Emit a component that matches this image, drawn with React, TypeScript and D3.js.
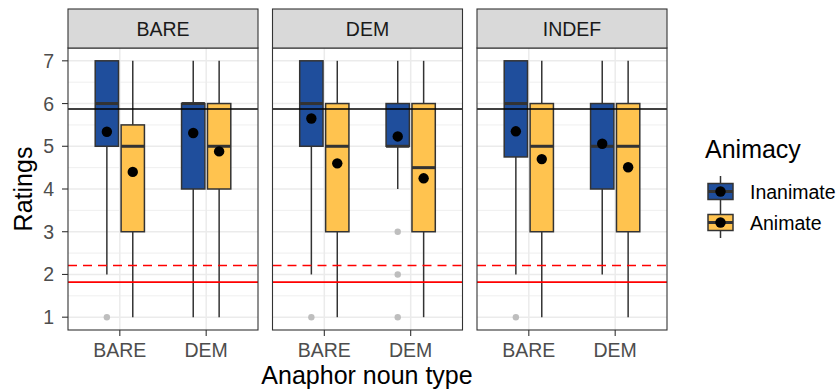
import React from 'react';
import * as d3 from 'd3';

const facets = ['BARE', 'DEM', 'INDEF'];
const nounTypes = ['BARE', 'DEM'];
const animacy = ['Inanimate', 'Animate'];
const fillColors = ['#1F4E9C', '#FFC34F'];
const yTicks = [1, 2, 3, 4, 5, 6, 7];
const yMinor = [1.5, 2.5, 3.5, 4.5, 5.5, 6.5];

// facet, noun type, animacy, whisker low, lower hinge, median, upper hinge, whisker high, mean
interface BoxRow {
  facet: string;
  noun: string;
  group: string;
  ymin: number;
  lower: number;
  middle: number;
  upper: number;
  ymax: number;
  mean: number;
}

const boxes: BoxRow[] = [
  { facet: 'BARE', noun: 'BARE', group: 'Inanimate', ymin: 2, lower: 5, middle: 6, upper: 7, ymax: 7, mean: 5.34 },
  { facet: 'BARE', noun: 'BARE', group: 'Animate', ymin: 1, lower: 3, middle: 5, upper: 5.5, ymax: 7, mean: 4.4 },
  { facet: 'BARE', noun: 'DEM', group: 'Inanimate', ymin: 1, lower: 4, middle: 6, upper: 6, ymax: 7, mean: 5.31 },
  { facet: 'BARE', noun: 'DEM', group: 'Animate', ymin: 1, lower: 4, middle: 5, upper: 6, ymax: 7, mean: 4.88 },
  { facet: 'DEM', noun: 'BARE', group: 'Inanimate', ymin: 2, lower: 5, middle: 6, upper: 7, ymax: 7, mean: 5.65 },
  { facet: 'DEM', noun: 'BARE', group: 'Animate', ymin: 1, lower: 3, middle: 5, upper: 6, ymax: 7, mean: 4.6 },
  { facet: 'DEM', noun: 'DEM', group: 'Inanimate', ymin: 4, lower: 5, middle: 5, upper: 6, ymax: 7, mean: 5.23 },
  { facet: 'DEM', noun: 'DEM', group: 'Animate', ymin: 1, lower: 3, middle: 4.5, upper: 6, ymax: 7, mean: 4.25 },
  { facet: 'INDEF', noun: 'BARE', group: 'Inanimate', ymin: 2, lower: 4.75, middle: 6, upper: 7, ymax: 7, mean: 5.35 },
  { facet: 'INDEF', noun: 'BARE', group: 'Animate', ymin: 1, lower: 3, middle: 5, upper: 6, ymax: 7, mean: 4.7 },
  { facet: 'INDEF', noun: 'DEM', group: 'Inanimate', ymin: 2, lower: 4, middle: 5, upper: 6, ymax: 7, mean: 5.06 },
  { facet: 'INDEF', noun: 'DEM', group: 'Animate', ymin: 1, lower: 3, middle: 5, upper: 6, ymax: 7, mean: 4.51 },
];

const outliers = [
  { facet: 'BARE', noun: 'BARE', group: 'Inanimate', value: 1 },
  { facet: 'DEM', noun: 'BARE', group: 'Inanimate', value: 1 },
  { facet: 'DEM', noun: 'DEM', group: 'Inanimate', value: 3 },
  { facet: 'DEM', noun: 'DEM', group: 'Inanimate', value: 2 },
  { facet: 'DEM', noun: 'DEM', group: 'Inanimate', value: 1 },
  { facet: 'INDEF', noun: 'BARE', group: 'Inanimate', value: 1 },
];

const meanLine = 5.87;
const dashedLine = 2.21;
const solidLine = 1.82;

const W = 839;
const H = 392;
const panelTop = 48;
const panelBottom = 330;
const stripTop = 9;
const font = '"Liberation Sans", Arial, Helvetica, sans-serif';
const dark = '#333333';
const smallSize = 19.5;
const titleSize = 25;

export default function App() {
  const fx = d3.scaleBand<string>().domain(facets).range([68, 667]).paddingInner(0.0709);
  const bw = fx.bandwidth();
  const x = d3.scaleLinear().domain([0.4, 2.6]).range([0, bw]);
  const y = d3.scaleLinear().domain([0.7, 7.3]).range([panelBottom, panelTop]);
  const groupScale = d3.scaleOrdinal<string, number>().domain(animacy).range([-0.15, 0.15]);
  const color = d3.scaleOrdinal<string, string>().domain(animacy).range(fillColors);
  const boxW = x(0.4 + 0.27) - x(0.4);

  const cx = (noun: string, group: string) => x(nounTypes.indexOf(noun) + 1 + groupScale(group));

  return (
    <svg width={W} height={H} style={{ position: 'absolute', left: 0, top: 0 }} fontFamily={font}>
      <rect width={W} height={H} fill="white" />
      {facets.map(f => {
        const left = fx(f) || 0;
        const fb = boxes.filter(b => b.facet === f);
        const fo = outliers.filter(o => o.facet === f);
        return (
          <g key={f} transform={`translate(${left},0)`}>
            <rect x={0} y={panelTop} width={bw} height={panelBottom - panelTop} fill="white" />
            {yMinor.map(v => (
              <line key={'m' + v} x1={0} x2={bw} y1={y(v)} y2={y(v)} stroke="#EBEBEB" strokeWidth={0.8} />
            ))}
            {yTicks.map(v => (
              <line key={'M' + v} x1={0} x2={bw} y1={y(v)} y2={y(v)} stroke="#EBEBEB" strokeWidth={1.5} />
            ))}
            {nounTypes.map((n, i) => (
              <line key={n} x1={x(i + 1)} x2={x(i + 1)} y1={panelTop} y2={panelBottom} stroke="#EBEBEB" strokeWidth={1.5} />
            ))}
            {fo.map((o, i) => (
              <circle key={'o' + i} cx={cx(o.noun, o.group)} cy={y(o.value)} r={3.2} fill="#BEBEBE" />
            ))}
            {fb.map((b, i) => {
              const c = cx(b.noun, b.group);
              return (
                <g key={'b' + i}>
                  <line x1={c} x2={c} y1={y(b.upper)} y2={y(b.ymax)} stroke={dark} strokeWidth={1.5} />
                  <line x1={c} x2={c} y1={y(b.lower)} y2={y(b.ymin)} stroke={dark} strokeWidth={1.5} />
                  <rect x={c - boxW / 2} y={y(b.upper)} width={boxW} height={y(b.lower) - y(b.upper)}
                    fill={color(b.group)} stroke={dark} strokeWidth={1.5} />
                  <line x1={c - boxW / 2} x2={c + boxW / 2} y1={y(b.middle)} y2={y(b.middle)} stroke={dark} strokeWidth={3} />
                </g>
              );
            })}
            <line x1={0} x2={bw} y1={y(meanLine)} y2={y(meanLine)} stroke="black" strokeWidth={1.5} />
            <line x1={0} x2={bw} y1={y(dashedLine)} y2={y(dashedLine)} stroke="#FF0000" strokeWidth={1.6} strokeDasharray="9,6" />
            <line x1={0} x2={bw} y1={y(solidLine)} y2={y(solidLine)} stroke="#FF0000" strokeWidth={1.6} />
            {fb.map((b, i) => (
              <circle key={'p' + i} cx={cx(b.noun, b.group)} cy={y(b.mean)} r={5.2} fill="black" />
            ))}
            <rect x={0} y={panelTop} width={bw} height={panelBottom - panelTop} fill="none" stroke={dark} strokeWidth={1.1} />
            <rect x={0} y={stripTop} width={bw} height={panelTop - stripTop} fill="#D9D9D9" stroke={dark} strokeWidth={1.1} />
            <text x={bw / 2} y={36} textAnchor="middle" fontSize={smallSize} fill="#1A1A1A">{f}</text>
            {nounTypes.map((n, i) => (
              <g key={'t' + n}>
                <line x1={x(i + 1)} x2={x(i + 1)} y1={panelBottom} y2={panelBottom + 6} stroke={dark} strokeWidth={1.1} />
                <text x={x(i + 1)} y={357} textAnchor="middle" fontSize={smallSize} fill="#4D4D4D">{n}</text>
              </g>
            ))}
          </g>
        );
      })}
      {/* y axis */}
      {yTicks.map(v => (
        <g key={'y' + v}>
          <line x1={62} x2={68} y1={y(v)} y2={y(v)} stroke={dark} strokeWidth={1.1} />
          <text x={54} y={y(v)} dy="0.36em" textAnchor="end" fontSize={smallSize} fill="#4D4D4D">{v}</text>
        </g>
      ))}
      <text transform={`translate(32,${(panelTop + panelBottom) / 2}) rotate(-90)`} textAnchor="middle" fontSize={titleSize} fill="black">Ratings</text>
      <text x={367} y={384} textAnchor="middle" fontSize={titleSize} fill="black">Anaphor noun type</text>
      {/* legend */}
      <text x={705} y={158} fontSize={titleSize} fill="black">Animacy</text>
      {animacy.map((g, i) => {
        const ky = 176 + i * 31;
        const kx = 705;
        const ks = 31;
        return (
          <g key={'l' + g}>
            <line x1={kx + ks / 2} x2={kx + ks / 2} y1={ky} y2={ky + ks} stroke={dark} strokeWidth={1.5} />
            <rect x={kx + 3} y={ky + 7.5} width={ks - 6} height={ks - 15} fill={color(g)} stroke={dark} strokeWidth={1.5} />
            <line x1={kx + 3} x2={kx + ks - 3} y1={ky + ks / 2} y2={ky + ks / 2} stroke={dark} strokeWidth={3} />
            <circle cx={kx + ks / 2} cy={ky + ks / 2} r={5.2} fill="black" />
            <text x={750} y={ky + ks / 2} dy="0.36em" fontSize={smallSize} fill="black">{g}</text>
          </g>
        );
      })}
    </svg>
  );
}
